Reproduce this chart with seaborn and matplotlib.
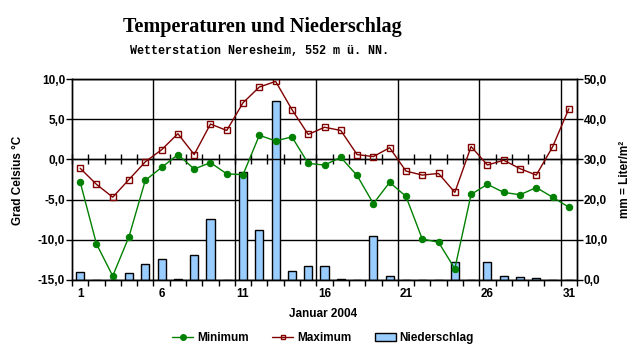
import matplotlib
matplotlib.use("Agg")
import matplotlib.pyplot as plt
import numpy as np
import pandas as pd
import seaborn as sns
from matplotlib.lines import Line2D
from matplotlib.patches import Patch
from matplotlib.ticker import FixedLocator, FuncFormatter

# ---- data ----
days = list(range(1, 32))
t_min = [-2.8, -10.5, -14.5, -9.6, -2.6, -1.0, 0.6, -1.2, -0.4, -1.8,
         -1.9, 3.0, 2.3, 2.8, -0.5, -0.7, 0.25, -2.0, -5.5, -2.85,
         -4.6, -9.9, -10.3, -13.6, -4.35, -3.1, -4.1, -4.4, -3.5, -4.7,
         -5.95]
t_max = [-1.1, -3.1, -4.7, -2.5, -0.3, 1.2, 3.2, 0.6, 4.4, 3.6,
         7.05, 9.0, 9.7, 6.2, 3.1, 4.0, 3.6, 0.6, 0.35, 1.45,
         -1.45, -1.95, -1.75, -4.1, 1.6, -0.7, -0.1, -1.15, -1.95, 1.55,
         6.3]
precip = [2.1, 0.0, 0.0, 1.7, 3.9, 5.2, 0.2, 6.1, 15.1, 0.0,
          26.8, 12.4, 44.5, 2.2, 3.4, 3.4, 0.2, 0.0, 10.9, 1.0,
          0.0, 0.0, 0.0, 4.4, 0.0, 4.4, 1.0, 0.7, 0.4, 0.0,
          0.0]
x_label_days = [1, 6, 11, 16, 21, 26, 31]
temp_ticks = [-15, -10, -5, 0, 5, 10]
rain_ticks = [0, 10, 20, 30, 40, 50]
title = "Temperaturen und Niederschlag"
subtitle = "Wetterstation Neresheim, 552 m ü. NN."
x_title = "Januar 2004"
y_left = "Grad Celsius °C"
y_right = "mm = Liter/m²"
series_names = ["Minimum", "Maximum", "Niederschlag"]

df = pd.DataFrame({"Tag": days, "Minimum": t_min, "Maximum": t_max,
                   "Niederschlag": precip})

sns.set_theme(style="white")
plt.rcParams['font.family'] = ['Liberation Sans', 'DejaVu Sans']
plt.rcParams['axes.edgecolor'] = 'black'
plt.rcParams['axes.linewidth'] = 1.0
plt.rcParams['text.color'] = 'black'
plt.rcParams['xtick.color'] = 'black'
plt.rcParams['ytick.color'] = 'black'
plt.rcParams['axes.labelcolor'] = 'black'

GREEN = "#008000"
MAROON = "#800000"
BLUE = "#99CCFF"

fig = plt.figure(figsize=(6.42, 3.57), dpi=100)
fig.patch.set_facecolor("white")
L, R, T, B = 72 / 642, 577 / 642, 79 / 357, 280 / 357
ax = fig.add_axes([L, 1 - B, R - L, B - T])
ax2 = ax.twinx()
ax.set_zorder(2)
ax.patch.set_visible(False)
ax2.set_zorder(1)
ax2.patch.set_facecolor("white")

# bars (precipitation) on right axis
sns.barplot(data=df, x="Tag", y="Niederschlag", native_scale=True, width=0.5,
            color=BLUE, saturation=1, edgecolor="black", linewidth=1,
            errorbar=None, ax=ax2)

# lines (temperature) on left axis
sns.lineplot(data=df, x="Tag", y="Minimum", color=GREEN, linewidth=1,
             marker="o", markersize=4.6, markeredgecolor=GREEN, ax=ax)
sns.lineplot(data=df, x="Tag", y="Maximum", color=MAROON, linewidth=1,
             marker="s", markersize=3.8, markerfacecolor="none",
             markeredgecolor=MAROON, markeredgewidth=1, ax=ax)

boundaries = np.arange(0.5, 32.0, 1.0)

ax.set_xlim(0.5, 31.5)
ax.set_ylim(-15, 10)
ax2.set_ylim(0, 50)

# grid behind bars
ax2.set_axisbelow(True)
ax2.yaxis.grid(True, color="black", linewidth=1)
ax2.xaxis.grid(False)
for b in boundaries[5:-1:5]:
    ax2.axvline(b, color="black", linewidth=1, zorder=0.5)

fmt = FuncFormatter(lambda v, p: f"{v:.1f}".replace(".", ","))
ax.set_yticks(temp_ticks)
ax.yaxis.set_major_formatter(fmt)
ax2.set_yticks(rain_ticks)
ax2.yaxis.set_major_formatter(fmt)

ax.set_xticks(x_label_days)
ax.set_xticklabels([str(d) for d in x_label_days])
ax.xaxis.set_minor_locator(FixedLocator(boundaries))
ax.tick_params(axis="x", which="major", length=0, pad=6, labelsize=8.5)
ax.tick_params(axis="x", which="minor", length=4, width=1, direction="out",
               color="black", bottom=True)
ax.tick_params(axis="y", which="major", length=4, width=1, direction="out",
               pad=1, labelsize=8.5, left=True, color="black")
ax2.tick_params(axis="y", which="major", length=4, width=1, direction="out",
                pad=1, labelsize=8.5, right=True, color="black")
for lab in ax.get_xticklabels() + ax.get_yticklabels() + ax2.get_yticklabels():
    lab.set_fontweight("bold")

ax.set_xlabel("")
ax.set_ylabel("")
ax2.set_ylabel("")
for s in ax.spines.values():
    s.set_color("black")
    s.set_linewidth(1)

# axis line at 0 °C with day ticks
sec = ax.secondary_xaxis(0.6)
sec.set_xticks(boundaries)
sec.set_xticklabels([])
sec.tick_params(axis="x", direction="inout", length=7, width=1, color="black")
for s in sec.spines.values():
    s.set_linewidth(1)
    s.set_color("black")

# texts
fig.text(262.5 / 642, 1 - 32 / 357, title, family=["Liberation Serif", "DejaVu Serif"],
         fontweight="bold", fontsize=14.5, ha="center", va="baseline")
fig.text(259 / 642, 1 - 54 / 357, subtitle, family=["Liberation Mono", "DejaVu Sans Mono"],
         fontweight="bold", fontsize=8.5, ha="center", va="baseline")
fig.text(18 / 642, 1 - 180 / 357, y_left, rotation=90, ha="center", va="center",
         fontweight="bold", fontsize=8.5)
fig.text(625 / 642, 1 - 179 / 357, y_right, rotation=90, ha="center", va="center",
         fontweight="bold", fontsize=8.5)
fig.text(323 / 642, 1 - 314 / 357, x_title, ha="center", va="center",
         fontweight="bold", fontsize=8.5)

handles = [
    Line2D([], [], color=GREEN, marker="o", markersize=4, linewidth=1),
    Line2D([], [], color=MAROON, marker="s", markersize=3.5, markerfacecolor="none",
           markeredgewidth=1, linewidth=1),
    Patch(facecolor=BLUE, edgecolor="black", linewidth=1),
]
leg = fig.legend(handles, series_names, loc="center", ncol=3,
                 bbox_to_anchor=(323 / 642, 1 - 338 / 357), frameon=False,
                 prop={"weight": "bold", "size": 8.5}, handlelength=1.8,
                 handletextpad=0.3, columnspacing=2.0)

fig.savefig("out.png", dpi=100, facecolor="white")
